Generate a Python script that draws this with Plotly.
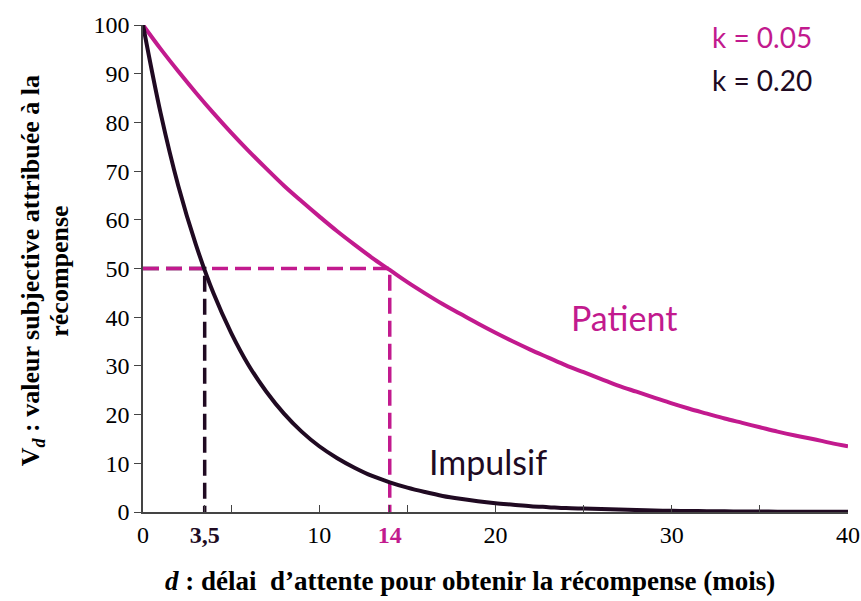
import plotly.graph_objects as go

# délai d (mois) et valeurs
delai = list(range(0, 41))

patient = [100, 95.1, 90.5, 86.1, 81.9, 77.9, 74.1, 70.5, 67.0, 63.8,
           60.7, 57.7, 54.9, 52.2, 49.7, 47.2, 44.9, 42.7, 40.7, 38.7,
           36.8, 35.0, 33.3, 31.7, 30.1, 28.7, 27.3, 25.9, 24.7, 23.5,
           22.3, 21.2, 20.2, 19.2, 18.3, 17.4, 16.5, 15.7, 15.0, 14.2, 13.5]

impulsif = [100, 81.9, 67.0, 54.9, 44.9, 36.8, 30.1, 24.7, 20.2, 16.5,
            13.5, 11.1, 9.1, 7.4, 6.1, 5.0, 4.1, 3.3, 2.7, 2.2,
            1.8, 1.5, 1.2, 1.0, 0.8, 0.7, 0.6, 0.5, 0.4, 0.3,
            0.25, 0.2, 0.17, 0.14, 0.11, 0.09, 0.07, 0.06, 0.05, 0.04, 0.03]

# délais correspondant à une valeur de 50
seuil = 50
d_impulsif = 3.5
d_patient = 14

x_ticks = [0, 3.5, 10, 14, 20, 30, 40]
x_labels = ["0", "3,5", "10", "14", "20", "30", "40"]
x_minor = [5, 15, 25, 35]

MAGENTA = "#C21A8E"
SOMBRE = "#200A22"
SERIF = "Liberation Serif"
SANS = "Lato"

# étiquettes 3,5 et 14 en gras et en couleur
couleurs = {"3,5": SOMBRE, "14": MAGENTA}
x_text = ["<b><span style='color:%s'>%s</span></b>" % (couleurs[t], t) if t in couleurs else t
          for t in x_labels]

fig = go.Figure()

# pointillés à 50
fig.add_trace(go.Scatter(
    x=[0, d_impulsif, d_impulsif], y=[seuil, seuil, 0],
    mode="lines", line=dict(color=SOMBRE, width=3.5, dash="16px,7px"),
    hoverinfo="skip", showlegend=False
))
fig.add_trace(go.Scatter(
    x=[0, d_patient, d_patient], y=[seuil, seuil, 0],
    mode="lines", line=dict(color=MAGENTA, width=3.5, dash="16px,7px"),
    hoverinfo="skip", showlegend=False
))

fig.add_trace(go.Scatter(
    x=delai, y=patient, mode="lines", name="k = 0.05",
    line=dict(color=MAGENTA, width=4, shape="spline"), showlegend=False
))
fig.add_trace(go.Scatter(
    x=delai, y=impulsif, mode="lines", name="k = 0.20",
    line=dict(color=SOMBRE, width=4, shape="spline"), showlegend=False
))

fig.update_layout(
    width=861,
    height=601,
    margin=dict(l=143, r=13, t=25, b=89),
    plot_bgcolor="white",
    paper_bgcolor="white",
    font=dict(family=SERIF, size=24, color="black"),
    xaxis=dict(
        range=[0, 40],
        automargin=False,
        tickmode="array",
        tickvals=x_ticks,
        ticktext=x_text,
        ticklabeloverflow="allow",
        ticks="inside",
        ticklen=7,
        tickcolor="#444",
        minor=dict(tickvals=x_minor, ticks="inside", ticklen=7, tickcolor="#444"),
        showline=True,
        linecolor="#444",
        linewidth=1.5,
        showgrid=False,
        zeroline=False,
    ),
    yaxis=dict(
        range=[0, 100],
        automargin=False,
        dtick=10,
        ticks="outside",
        ticklen=7,
        tickcolor="#444",
        showline=True,
        linecolor="#444",
        linewidth=1.5,
        showgrid=False,
        zeroline=False,
    ),
)

# titres des axes
fig.add_annotation(x=0.464, y=-0.142, xref="paper", yref="paper",
                   text="<b><i>d</i> : délai  d’attente pour obtenir la récompense (mois)</b>",
                   showarrow=False, xanchor="center", yanchor="middle",
                   font=dict(family=SERIF, size=27, color="black"))

y_titre = ["<b>V<sub><i>d</i></sub> : valeur subjective attribuée à la</b>", "<b>récompense</b>"]
for texte, xp in zip(y_titre, [-0.157, -0.118]):
    fig.add_annotation(x=xp, y=0.495, xref="paper", yref="paper", text=texte,
                       textangle=-90, showarrow=False, xanchor="center", yanchor="middle",
                       font=dict(family=SERIF, size=26, color="black"))

annotations = [
    dict(x=27.3, y=40, text="Patient", color=MAGENTA, size=34),
    dict(x=19.6, y=10.3, text="Impulsif", color=SOMBRE, size=34),
    dict(x=35.1, y=97.5, text="k = 0.05", color=MAGENTA, size=28),
    dict(x=35.1, y=88.7, text="k = 0.20", color=SOMBRE, size=28),
]
for a in annotations:
    fig.add_annotation(x=a["x"], y=a["y"], text=a["text"], showarrow=False,
                       font=dict(family=SANS, size=a["size"], color=a["color"]))

# sans la marge par défaut de la page, le graphique occupe toute la fenêtre
fig.write_html("out.html", config={"displayModeBar": False},
               post_script="document.body.style.margin = '0';")
